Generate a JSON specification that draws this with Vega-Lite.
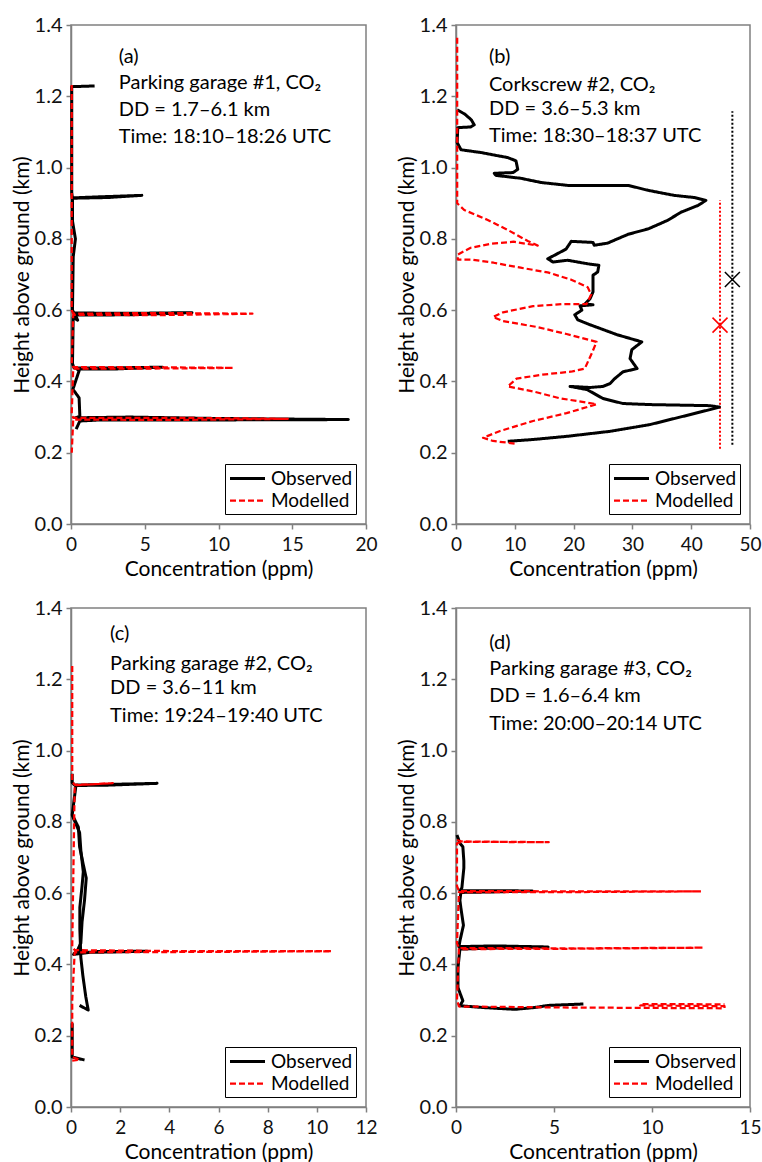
{
  "$schema": "https://vega.github.io/schema/vega-lite/v6.json",
  "padding": {"left": 10, "top": 14, "right": 0, "bottom": 0},
  "background": "white",
  "columns": 2,
  "spacing": {"column": 17, "row": 16},
  "datasets": {
    "a": [
      {"s":"Observed","g":1,"i":1,"x":1.6,"y":1.229},{"s":"Observed","g":1,"i":2,"x":0.05,"y":1.227},{"s":"Observed","g":1,"i":3,"x":0.05,"y":0.93},{"s":"Observed","g":1,"i":4,"x":0.1,"y":0.914},{"s":"Observed","g":1,"i":5,"x":2.5,"y":0.916},{"s":"Observed","g":1,"i":6,"x":4.8,"y":0.922},{"s":"Observed","g":1,"i":7,"x":2.0,"y":0.918},{"s":"Observed","g":1,"i":8,"x":0.1,"y":0.915},{"s":"Observed","g":1,"i":9,"x":0.1,"y":0.85},{"s":"Observed","g":1,"i":10,"x":0.3,"y":0.8},{"s":"Observed","g":1,"i":11,"x":0.15,"y":0.75},{"s":"Observed","g":1,"i":12,"x":0.1,"y":0.6},{"s":"Observed","g":1,"i":13,"x":0.2,"y":0.592},{"s":"Observed","g":1,"i":14,"x":4,"y":0.591},{"s":"Observed","g":1,"i":15,"x":8.2,"y":0.593},{"s":"Observed","g":1,"i":16,"x":4,"y":0.587},{"s":"Observed","g":1,"i":17,"x":0.3,"y":0.586},{"s":"Observed","g":1,"i":18,"x":0.45,"y":0.572},{"s":"Observed","g":1,"i":19,"x":0.15,"y":0.58},{"s":"Observed","g":1,"i":20,"x":0.1,"y":0.45},{"s":"Observed","g":1,"i":21,"x":0.2,"y":0.438},{"s":"Observed","g":1,"i":22,"x":3,"y":0.438},{"s":"Observed","g":1,"i":23,"x":6.2,"y":0.44},{"s":"Observed","g":1,"i":24,"x":3,"y":0.435},{"s":"Observed","g":1,"i":25,"x":0.4,"y":0.435},{"s":"Observed","g":1,"i":26,"x":0.55,"y":0.43},{"s":"Observed","g":1,"i":27,"x":0.13,"y":0.378},{"s":"Observed","g":1,"i":28,"x":0.55,"y":0.354},{"s":"Observed","g":1,"i":29,"x":0.6,"y":0.302},{"s":"Observed","g":1,"i":30,"x":0.3,"y":0.298},{"s":"Observed","g":1,"i":31,"x":4,"y":0.3},{"s":"Observed","g":1,"i":32,"x":10,"y":0.296},{"s":"Observed","g":1,"i":33,"x":18.8,"y":0.293},{"s":"Observed","g":1,"i":34,"x":10,"y":0.292},{"s":"Observed","g":1,"i":35,"x":2,"y":0.292},{"s":"Observed","g":1,"i":36,"x":0.6,"y":0.289},{"s":"Observed","g":1,"i":37,"x":0.35,"y":0.266},
      {"s":"Modelled","g":2,"i":1,"x":0.05,"y":1.232},{"s":"Modelled","g":2,"i":2,"x":0.05,"y":0.6},{"s":"Modelled","g":2,"i":3,"x":0.15,"y":0.59},{"s":"Modelled","g":2,"i":4,"x":6,"y":0.592},{"s":"Modelled","g":2,"i":5,"x":12.3,"y":0.59},{"s":"Modelled","g":2,"i":6,"x":6,"y":0.586},{"s":"Modelled","g":2,"i":7,"x":0.15,"y":0.587},{"s":"Modelled","g":2,"i":8,"x":0.05,"y":0.45},{"s":"Modelled","g":2,"i":9,"x":0.15,"y":0.44},{"s":"Modelled","g":2,"i":10,"x":5,"y":0.44},{"s":"Modelled","g":2,"i":11,"x":11.0,"y":0.438},{"s":"Modelled","g":2,"i":12,"x":5,"y":0.436},{"s":"Modelled","g":2,"i":13,"x":0.15,"y":0.436},{"s":"Modelled","g":2,"i":14,"x":0.05,"y":0.31},{"s":"Modelled","g":2,"i":15,"x":0.15,"y":0.298},{"s":"Modelled","g":2,"i":16,"x":7,"y":0.298},{"s":"Modelled","g":2,"i":17,"x":14.7,"y":0.295},{"s":"Modelled","g":2,"i":18,"x":7,"y":0.292},{"s":"Modelled","g":2,"i":19,"x":0.15,"y":0.293},{"s":"Modelled","g":2,"i":20,"x":0.05,"y":0.2}
    ],
    "b": [
      {"s":"Observed","g":1,"i":1,"x":0.2,"y":1.162},{"s":"Observed","g":1,"i":2,"x":1.5,"y":1.15},{"s":"Observed","g":1,"i":3,"x":2.6,"y":1.134},{"s":"Observed","g":1,"i":4,"x":3.1,"y":1.12},{"s":"Observed","g":1,"i":5,"x":2.5,"y":1.114},{"s":"Observed","g":1,"i":6,"x":0.3,"y":1.112},{"s":"Observed","g":1,"i":7,"x":0.2,"y":1.07},{"s":"Observed","g":1,"i":8,"x":0.85,"y":1.05},{"s":"Observed","g":1,"i":9,"x":4.3,"y":1.042},{"s":"Observed","g":1,"i":10,"x":8.8,"y":1.028},{"s":"Observed","g":1,"i":11,"x":10.2,"y":1.019},{"s":"Observed","g":1,"i":12,"x":10.5,"y":0.995},{"s":"Observed","g":1,"i":13,"x":9.7,"y":0.986},{"s":"Observed","g":1,"i":14,"x":6.5,"y":0.984},{"s":"Observed","g":1,"i":15,"x":6.8,"y":0.978},{"s":"Observed","g":1,"i":16,"x":11,"y":0.97},{"s":"Observed","g":1,"i":17,"x":14.5,"y":0.958},{"s":"Observed","g":1,"i":18,"x":19,"y":0.95},{"s":"Observed","g":1,"i":19,"x":29.3,"y":0.95},{"s":"Observed","g":1,"i":20,"x":32.7,"y":0.936},{"s":"Observed","g":1,"i":21,"x":37.1,"y":0.922},{"s":"Observed","g":1,"i":22,"x":40.5,"y":0.916},{"s":"Observed","g":1,"i":23,"x":42.5,"y":0.908},{"s":"Observed","g":1,"i":24,"x":41.2,"y":0.894},{"s":"Observed","g":1,"i":25,"x":38.3,"y":0.875},{"s":"Observed","g":1,"i":26,"x":36,"y":0.852},{"s":"Observed","g":1,"i":27,"x":32.7,"y":0.828},{"s":"Observed","g":1,"i":28,"x":29.3,"y":0.813},{"s":"Observed","g":1,"i":29,"x":26.9,"y":0.796},{"s":"Observed","g":1,"i":30,"x":25.8,"y":0.788},{"s":"Observed","g":1,"i":31,"x":23.5,"y":0.782},{"s":"Observed","g":1,"i":32,"x":23.3,"y":0.79},{"s":"Observed","g":1,"i":33,"x":19.6,"y":0.793},{"s":"Observed","g":1,"i":34,"x":18.7,"y":0.771},{"s":"Observed","g":1,"i":35,"x":15.6,"y":0.744},{"s":"Observed","g":1,"i":36,"x":16.5,"y":0.735},{"s":"Observed","g":1,"i":37,"x":19,"y":0.74},{"s":"Observed","g":1,"i":38,"x":22.4,"y":0.73},{"s":"Observed","g":1,"i":39,"x":24.3,"y":0.726},{"s":"Observed","g":1,"i":40,"x":24.1,"y":0.707},{"s":"Observed","g":1,"i":41,"x":23.3,"y":0.698},{"s":"Observed","g":1,"i":42,"x":23.3,"y":0.651},{"s":"Observed","g":1,"i":43,"x":22.8,"y":0.632},{"s":"Observed","g":1,"i":44,"x":21.9,"y":0.617},{"s":"Observed","g":1,"i":45,"x":23.3,"y":0.615},{"s":"Observed","g":1,"i":46,"x":21.1,"y":0.612},{"s":"Observed","g":1,"i":47,"x":21.4,"y":0.6},{"s":"Observed","g":1,"i":48,"x":20.2,"y":0.587},{"s":"Observed","g":1,"i":49,"x":20.7,"y":0.573},{"s":"Observed","g":1,"i":50,"x":22.8,"y":0.559},{"s":"Observed","g":1,"i":51,"x":27.4,"y":0.531},{"s":"Observed","g":1,"i":52,"x":31.6,"y":0.511},{"s":"Observed","g":1,"i":53,"x":29.9,"y":0.489},{"s":"Observed","g":1,"i":54,"x":29.6,"y":0.464},{"s":"Observed","g":1,"i":55,"x":30.8,"y":0.436},{"s":"Observed","g":1,"i":56,"x":28.4,"y":0.427},{"s":"Observed","g":1,"i":57,"x":27,"y":0.408},{"s":"Observed","g":1,"i":58,"x":26.2,"y":0.394},{"s":"Observed","g":1,"i":59,"x":25,"y":0.386},{"s":"Observed","g":1,"i":60,"x":22.8,"y":0.383},{"s":"Observed","g":1,"i":61,"x":19.4,"y":0.386},{"s":"Observed","g":1,"i":62,"x":22.3,"y":0.377},{"s":"Observed","g":1,"i":63,"x":25,"y":0.352},{"s":"Observed","g":1,"i":64,"x":28.4,"y":0.338},{"s":"Observed","g":1,"i":65,"x":33,"y":0.335},{"s":"Observed","g":1,"i":66,"x":43.2,"y":0.332},{"s":"Observed","g":1,"i":67,"x":44.8,"y":0.328},{"s":"Observed","g":1,"i":68,"x":43.2,"y":0.321},{"s":"Observed","g":1,"i":69,"x":38.6,"y":0.302},{"s":"Observed","g":1,"i":70,"x":33,"y":0.279},{"s":"Observed","g":1,"i":71,"x":26.2,"y":0.26},{"s":"Observed","g":1,"i":72,"x":18.9,"y":0.246},{"s":"Observed","g":1,"i":73,"x":13.1,"y":0.237},{"s":"Observed","g":1,"i":74,"x":8.8,"y":0.232},
      {"s":"Modelled","g":2,"i":1,"x":0.2,"y":1.364},{"s":"Modelled","g":2,"i":2,"x":0.2,"y":0.9},{"s":"Modelled","g":2,"i":3,"x":1.4,"y":0.881},{"s":"Modelled","g":2,"i":4,"x":5.4,"y":0.853},{"s":"Modelled","g":2,"i":5,"x":8.8,"y":0.825},{"s":"Modelled","g":2,"i":6,"x":12.2,"y":0.794},{"s":"Modelled","g":2,"i":7,"x":13.9,"y":0.781},{"s":"Modelled","g":2,"i":8,"x":9.8,"y":0.792},{"s":"Modelled","g":2,"i":9,"x":5.9,"y":0.786},{"s":"Modelled","g":2,"i":10,"x":2.5,"y":0.775},{"s":"Modelled","g":2,"i":11,"x":0.3,"y":0.756},{"s":"Modelled","g":2,"i":12,"x":0.3,"y":0.742},{"s":"Modelled","g":2,"i":13,"x":2.5,"y":0.742},{"s":"Modelled","g":2,"i":14,"x":6.4,"y":0.733},{"s":"Modelled","g":2,"i":15,"x":11,"y":0.719},{"s":"Modelled","g":2,"i":16,"x":15.6,"y":0.706},{"s":"Modelled","g":2,"i":17,"x":19.5,"y":0.686},{"s":"Modelled","g":2,"i":18,"x":22.4,"y":0.664},{"s":"Modelled","g":2,"i":19,"x":23,"y":0.644},{"s":"Modelled","g":2,"i":20,"x":22.2,"y":0.617},{"s":"Modelled","g":2,"i":21,"x":18.1,"y":0.617},{"s":"Modelled","g":2,"i":22,"x":13.1,"y":0.611},{"s":"Modelled","g":2,"i":23,"x":8,"y":0.594},{"s":"Modelled","g":2,"i":24,"x":6.3,"y":0.581},{"s":"Modelled","g":2,"i":25,"x":8,"y":0.569},{"s":"Modelled","g":2,"i":26,"x":13.7,"y":0.553},{"s":"Modelled","g":2,"i":27,"x":18.8,"y":0.533},{"s":"Modelled","g":2,"i":28,"x":23.9,"y":0.511},{"s":"Modelled","g":2,"i":29,"x":23.2,"y":0.483},{"s":"Modelled","g":2,"i":30,"x":21.9,"y":0.436},{"s":"Modelled","g":2,"i":31,"x":19.8,"y":0.428},{"s":"Modelled","g":2,"i":32,"x":14.7,"y":0.419},{"s":"Modelled","g":2,"i":33,"x":10.3,"y":0.408},{"s":"Modelled","g":2,"i":34,"x":8.8,"y":0.386},{"s":"Modelled","g":2,"i":35,"x":13.1,"y":0.372},{"s":"Modelled","g":2,"i":36,"x":17.6,"y":0.353},{"s":"Modelled","g":2,"i":37,"x":23.9,"y":0.336},{"s":"Modelled","g":2,"i":38,"x":18.8,"y":0.311},{"s":"Modelled","g":2,"i":39,"x":13.1,"y":0.289},{"s":"Modelled","g":2,"i":40,"x":7.5,"y":0.261},{"s":"Modelled","g":2,"i":41,"x":4.6,"y":0.242},{"s":"Modelled","g":2,"i":42,"x":6.3,"y":0.233},{"s":"Modelled","g":2,"i":43,"x":10.3,"y":0.225}
    ],
    "c": [
      {"s":"Observed","g":1,"i":1,"x":0.35,"y":0.285},{"s":"Observed","g":1,"i":2,"x":0.7,"y":0.272},{"s":"Observed","g":1,"i":3,"x":0.6,"y":0.31},{"s":"Observed","g":1,"i":4,"x":0.48,"y":0.37},{"s":"Observed","g":1,"i":5,"x":0.4,"y":0.42},{"s":"Observed","g":1,"i":6,"x":0.36,"y":0.5},{"s":"Observed","g":1,"i":7,"x":0.36,"y":0.56},{"s":"Observed","g":1,"i":8,"x":0.45,"y":0.62},{"s":"Observed","g":1,"i":9,"x":0.5,"y":0.66},{"s":"Observed","g":1,"i":10,"x":0.4,"y":0.72},{"s":"Observed","g":1,"i":11,"x":0.35,"y":0.77},{"s":"Observed","g":1,"i":12,"x":0.1,"y":0.81},{"s":"Observed","g":1,"i":13,"x":0.05,"y":0.82},
      {"s":"Observed","g":2,"i":1,"x":0.05,"y":0.935},{"s":"Observed","g":2,"i":2,"x":0.05,"y":0.91},{"s":"Observed","g":2,"i":3,"x":0.15,"y":0.903},{"s":"Observed","g":2,"i":4,"x":1.5,"y":0.905},{"s":"Observed","g":2,"i":5,"x":3.5,"y":0.908},{"s":"Observed","g":2,"i":6,"x":1.5,"y":0.903},{"s":"Observed","g":2,"i":7,"x":0.2,"y":0.902},{"s":"Observed","g":2,"i":8,"x":0.05,"y":0.82},{"s":"Observed","g":2,"i":9,"x":0.3,"y":0.785},{"s":"Observed","g":2,"i":10,"x":0.35,"y":0.73},{"s":"Observed","g":2,"i":11,"x":0.5,"y":0.68},{"s":"Observed","g":2,"i":12,"x":0.62,"y":0.642},{"s":"Observed","g":2,"i":13,"x":0.55,"y":0.58},{"s":"Observed","g":2,"i":14,"x":0.45,"y":0.52},{"s":"Observed","g":2,"i":15,"x":0.4,"y":0.46},{"s":"Observed","g":2,"i":16,"x":0.2,"y":0.43},{"s":"Observed","g":2,"i":17,"x":0.1,"y":0.428},{"s":"Observed","g":2,"i":18,"x":1,"y":0.436},{"s":"Observed","g":2,"i":19,"x":3.1,"y":0.437},{"s":"Observed","g":2,"i":20,"x":1,"y":0.434},{"s":"Observed","g":2,"i":21,"x":0.2,"y":0.434},{"s":"Observed","g":2,"i":22,"x":0.1,"y":0.43},
      {"s":"Observed","g":3,"i":1,"x":0.05,"y":0.235},{"s":"Observed","g":3,"i":2,"x":0.05,"y":0.14},{"s":"Observed","g":3,"i":3,"x":0.55,"y":0.132},
      {"s":"Modelled","g":4,"i":1,"x":0.05,"y":1.237},{"s":"Modelled","g":4,"i":2,"x":0.05,"y":0.912},{"s":"Modelled","g":4,"i":3,"x":0.15,"y":0.904},{"s":"Modelled","g":4,"i":4,"x":1.0,"y":0.906},{"s":"Modelled","g":4,"i":5,"x":1.7,"y":0.909},{"s":"Modelled","g":4,"i":6,"x":0.8,"y":0.905},{"s":"Modelled","g":4,"i":7,"x":0.15,"y":0.903},{"s":"Modelled","g":4,"i":8,"x":0.05,"y":0.45},{"s":"Modelled","g":4,"i":9,"x":0.15,"y":0.44},{"s":"Modelled","g":4,"i":10,"x":5,"y":0.437},{"s":"Modelled","g":4,"i":11,"x":10.6,"y":0.437},{"s":"Modelled","g":4,"i":12,"x":5,"y":0.435},{"s":"Modelled","g":4,"i":13,"x":0.15,"y":0.434},{"s":"Modelled","g":4,"i":14,"x":0.05,"y":0.3},{"s":"Modelled","g":4,"i":15,"x":0.05,"y":0.14},{"s":"Modelled","g":4,"i":16,"x":0.35,"y":0.133},{"s":"Modelled","g":4,"i":17,"x":0.05,"y":0.13}
    ],
    "d": [
      {"s":"Observed","g":1,"i":1,"x":0.05,"y":0.763},{"s":"Observed","g":1,"i":2,"x":0.2,"y":0.74},{"s":"Observed","g":1,"i":3,"x":0.35,"y":0.73},{"s":"Observed","g":1,"i":4,"x":0.4,"y":0.69},{"s":"Observed","g":1,"i":5,"x":0.4,"y":0.67},{"s":"Observed","g":1,"i":6,"x":0.3,"y":0.615},{"s":"Observed","g":1,"i":7,"x":0.2,"y":0.607},{"s":"Observed","g":1,"i":8,"x":2,"y":0.607},{"s":"Observed","g":1,"i":9,"x":3.9,"y":0.606},{"s":"Observed","g":1,"i":10,"x":1.5,"y":0.603},{"s":"Observed","g":1,"i":11,"x":0.25,"y":0.602},{"s":"Observed","g":1,"i":12,"x":0.2,"y":0.58},{"s":"Observed","g":1,"i":13,"x":0.25,"y":0.558},{"s":"Observed","g":1,"i":14,"x":0.38,"y":0.51},{"s":"Observed","g":1,"i":15,"x":0.2,"y":0.466},{"s":"Observed","g":1,"i":16,"x":0.15,"y":0.45},{"s":"Observed","g":1,"i":17,"x":2,"y":0.452},{"s":"Observed","g":1,"i":18,"x":4.7,"y":0.449},{"s":"Observed","g":1,"i":19,"x":2,"y":0.446},{"s":"Observed","g":1,"i":20,"x":0.2,"y":0.443},{"s":"Observed","g":1,"i":21,"x":0.1,"y":0.39},{"s":"Observed","g":1,"i":22,"x":0.1,"y":0.335},{"s":"Observed","g":1,"i":23,"x":0.35,"y":0.298},{"s":"Observed","g":1,"i":24,"x":0.2,"y":0.284},{"s":"Observed","g":1,"i":25,"x":1.4,"y":0.279},{"s":"Observed","g":1,"i":26,"x":3.0,"y":0.274},{"s":"Observed","g":1,"i":27,"x":4.0,"y":0.279},{"s":"Observed","g":1,"i":28,"x":4.7,"y":0.285},{"s":"Observed","g":1,"i":29,"x":6.5,"y":0.289},
      {"s":"Modelled","g":2,"i":1,"x":0.05,"y":0.749},{"s":"Modelled","g":2,"i":2,"x":0.3,"y":0.745},{"s":"Modelled","g":2,"i":3,"x":4.73,"y":0.743},{"s":"Modelled","g":2,"i":4,"x":0.3,"y":0.744},{"s":"Modelled","g":2,"i":5,"x":0.05,"y":0.74},{"s":"Modelled","g":2,"i":6,"x":0.05,"y":0.62},{"s":"Modelled","g":2,"i":7,"x":0.15,"y":0.606},{"s":"Modelled","g":2,"i":8,"x":6,"y":0.605},{"s":"Modelled","g":2,"i":9,"x":12.5,"y":0.605},{"s":"Modelled","g":2,"i":10,"x":6,"y":0.603},{"s":"Modelled","g":2,"i":11,"x":0.15,"y":0.603},{"s":"Modelled","g":2,"i":12,"x":0.05,"y":0.46},{"s":"Modelled","g":2,"i":13,"x":0.15,"y":0.446},{"s":"Modelled","g":2,"i":14,"x":6,"y":0.445},{"s":"Modelled","g":2,"i":15,"x":12.6,"y":0.447},{"s":"Modelled","g":2,"i":16,"x":6,"y":0.444},{"s":"Modelled","g":2,"i":17,"x":0.15,"y":0.443},{"s":"Modelled","g":2,"i":18,"x":0.05,"y":0.3},{"s":"Modelled","g":2,"i":19,"x":0.15,"y":0.282},{"s":"Modelled","g":2,"i":20,"x":6,"y":0.279},{"s":"Modelled","g":2,"i":21,"x":13.7,"y":0.277},{"s":"Modelled","g":2,"i":22,"x":13.7,"y":0.283},{"s":"Modelled","g":2,"i":23,"x":9.4,"y":0.285},{"s":"Modelled","g":2,"i":24,"x":9.4,"y":0.289},{"s":"Modelled","g":2,"i":25,"x":13.7,"y":0.288}
    ],
    "ta": [{"x":3.24,"y":1.311,"t":"(a)"},{"x":3.24,"y":1.236,"t":"Parking garage #1, CO₂"},{"x":3.24,"y":1.161,"t":"DD = 1.7–6.1 km"},{"x":3.24,"y":1.085,"t":"Time: 18:10–18:26 UTC"}],
    "tb": [{"x":5.6,"y":1.311,"t":"(b)"},{"x":5.6,"y":1.233,"t":"Corkscrew #2, CO₂"},{"x":5.6,"y":1.164,"t":"DD = 3.6–5.3 km"},{"x":5.6,"y":1.089,"t":"Time: 18:30–18:37 UTC"}],
    "tc": [{"x":1.59,"y":1.326,"t":"(c)"},{"x":1.59,"y":1.242,"t":"Parking garage #2, CO₂"},{"x":1.59,"y":1.175,"t":"DD = 3.6–11 km"},{"x":1.59,"y":1.097,"t":"Time: 19:24–19:40 UTC"}],
    "td": [{"x":1.7,"y":1.303,"t":"(d)"},{"x":1.7,"y":1.228,"t":"Parking garage #3, CO₂"},{"x":1.7,"y":1.153,"t":"DD = 1.6–6.4 km"},{"x":1.7,"y":1.074,"t":"Time: 20:00–20:14 UTC"}],
    "eo": [{"x":47,"y":0.222,"y2":1.158,"m":0.686}],
    "em": [{"x":44.9,"y":0.211,"y2":0.908,"m":0.558}]
  },
  "resolve": {
    "scale": {"color": "independent", "strokeDash": "independent", "strokeWidth": "independent"},
    "legend": {"color": "independent", "strokeDash": "independent", "strokeWidth": "independent"}
  },
  "concat": [
    {
      "width": 295, "height": 499,
      "encoding": {
        "x": {"field": "x", "type": "quantitative", "scale": {"domain": [0, 20], "nice": false, "zero": false}, "axis": {"values": [0, 5, 10, 15, 20]}, "title": "Concentration (ppm)"},
        "y": {"field": "y", "type": "quantitative", "scale": {"domain": [0, 1.4], "nice": false}, "axis": {"values": [0, 0.2, 0.4, 0.6, 0.8, 1.0, 1.2, 1.4], "format": ".1f"}, "title": "Height above ground (km)"}
      },
      "layer": [
        {"data": {"name": "a"}, "mark": {"type": "line", "strokeJoin": "round", "strokeCap": "butt"},
         "encoding": {
           "color": {"field": "s", "type": "nominal", "scale": {"domain": ["Observed", "Modelled"], "range": ["black", "#ff0000"]}, "title": null},
           "strokeDash": {"field": "s", "type": "nominal", "scale": {"domain": ["Observed", "Modelled"], "range": [[1, 0], [6, 3]]}, "title": null},
           "strokeWidth": {"field": "s", "type": "nominal", "scale": {"domain": ["Observed", "Modelled"], "range": [3, 2.25]}, "title": null},
           "detail": {"field": "g"},
           "order": {"field": "i", "type": "quantitative"}
         }},
        {"data": {"name": "ta"}, "mark": {"type": "text", "align": "left", "baseline": "middle", "fontSize": 20, "font": "Lato", "color": "black"},
         "encoding": {"text": {"field": "t"}}}
      ]
    },
    {
      "width": 294, "height": 499,
      "encoding": {
        "x": {"field": "x", "type": "quantitative", "scale": {"domain": [0, 50], "nice": false, "zero": false}, "axis": {"values": [0, 10, 20, 30, 40, 50]}, "title": "Concentration (ppm)"},
        "y": {"field": "y", "type": "quantitative", "scale": {"domain": [0, 1.4], "nice": false}, "axis": {"values": [0, 0.2, 0.4, 0.6, 0.8, 1.0, 1.2, 1.4], "format": ".1f"}, "title": "Height above ground (km)"}
      },
      "layer": [
        {"data": {"name": "em"}, "mark": {"type": "rule", "color": "#ff0000", "strokeWidth": 2, "strokeDash": [2, 2]}, "encoding": {"y2": {"field": "y2"}}},
        {"data": {"name": "eo"}, "mark": {"type": "rule", "color": "black", "strokeWidth": 2, "strokeDash": [2, 2]}, "encoding": {"y2": {"field": "y2"}}},
        {"data": {"name": "em"}, "mark": {"type": "point", "shape": "M-1,-1L1,1M-1,1L1,-1", "size": 225, "filled": false, "color": "#ff0000", "strokeWidth": 1.5, "opacity": 1}, "encoding": {"y": {"field": "m", "type": "quantitative"}}},
        {"data": {"name": "eo"}, "mark": {"type": "point", "shape": "M-1,-1L1,1M-1,1L1,-1", "size": 225, "filled": false, "color": "black", "strokeWidth": 1.5, "opacity": 1}, "encoding": {"y": {"field": "m", "type": "quantitative"}}},
        {"data": {"name": "b"}, "mark": {"type": "line", "strokeJoin": "round", "strokeCap": "butt"},
         "encoding": {
           "color": {"field": "s", "type": "nominal", "scale": {"domain": ["Observed", "Modelled"], "range": ["black", "#ff0000"]}, "title": null},
           "strokeDash": {"field": "s", "type": "nominal", "scale": {"domain": ["Observed", "Modelled"], "range": [[1, 0], [6, 3]]}, "title": null},
           "strokeWidth": {"field": "s", "type": "nominal", "scale": {"domain": ["Observed", "Modelled"], "range": [3, 2.25]}, "title": null},
           "detail": {"field": "g"},
           "order": {"field": "i", "type": "quantitative"}
         }},
        {"data": {"name": "tb"}, "mark": {"type": "text", "align": "left", "baseline": "middle", "fontSize": 20, "font": "Lato", "color": "black"},
         "encoding": {"text": {"field": "t"}}}
      ]
    },
    {
      "width": 295, "height": 499,
      "encoding": {
        "x": {"field": "x", "type": "quantitative", "scale": {"domain": [0, 12], "nice": false, "zero": false}, "axis": {"values": [0, 2, 4, 6, 8, 10, 12]}, "title": "Concentration (ppm)"},
        "y": {"field": "y", "type": "quantitative", "scale": {"domain": [0, 1.4], "nice": false}, "axis": {"values": [0, 0.2, 0.4, 0.6, 0.8, 1.0, 1.2, 1.4], "format": ".1f"}, "title": "Height above ground (km)"}
      },
      "layer": [
        {"data": {"name": "c"}, "mark": {"type": "line", "strokeJoin": "round", "strokeCap": "butt"},
         "encoding": {
           "color": {"field": "s", "type": "nominal", "scale": {"domain": ["Observed", "Modelled"], "range": ["black", "#ff0000"]}, "title": null},
           "strokeDash": {"field": "s", "type": "nominal", "scale": {"domain": ["Observed", "Modelled"], "range": [[1, 0], [6, 3]]}, "title": null},
           "strokeWidth": {"field": "s", "type": "nominal", "scale": {"domain": ["Observed", "Modelled"], "range": [3, 2.25]}, "title": null},
           "detail": {"field": "g"},
           "order": {"field": "i", "type": "quantitative"}
         }},
        {"data": {"name": "tc"}, "mark": {"type": "text", "align": "left", "baseline": "middle", "fontSize": 20, "font": "Lato", "color": "black"},
         "encoding": {"text": {"field": "t"}}}
      ]
    },
    {
      "width": 294, "height": 499,
      "encoding": {
        "x": {"field": "x", "type": "quantitative", "scale": {"domain": [0, 15], "nice": false, "zero": false}, "axis": {"values": [0, 5, 10, 15]}, "title": "Concentration (ppm)"},
        "y": {"field": "y", "type": "quantitative", "scale": {"domain": [0, 1.4], "nice": false}, "axis": {"values": [0, 0.2, 0.4, 0.6, 0.8, 1.0, 1.2, 1.4], "format": ".1f"}, "title": "Height above ground (km)"}
      },
      "layer": [
        {"data": {"name": "d"}, "mark": {"type": "line", "strokeJoin": "round", "strokeCap": "butt"},
         "encoding": {
           "color": {"field": "s", "type": "nominal", "scale": {"domain": ["Observed", "Modelled"], "range": ["black", "#ff0000"]}, "title": null},
           "strokeDash": {"field": "s", "type": "nominal", "scale": {"domain": ["Observed", "Modelled"], "range": [[1, 0], [6, 3]]}, "title": null},
           "strokeWidth": {"field": "s", "type": "nominal", "scale": {"domain": ["Observed", "Modelled"], "range": [3, 2.25]}, "title": null},
           "detail": {"field": "g"},
           "order": {"field": "i", "type": "quantitative"}
         }},
        {"data": {"name": "td"}, "mark": {"type": "text", "align": "left", "baseline": "middle", "fontSize": 20, "font": "Lato", "color": "black"},
         "encoding": {"text": {"field": "t"}}}
      ]
    }
  ],
  "config": {
    "font": "Lato",
    "view": {"stroke": "#808080", "strokeWidth": 1.5},
    "axis": {
      "grid": false,
      "domainColor": "#808080", "domainWidth": 1.5,
      "tickColor": "#808080", "tickWidth": 1.5, "tickSize": 5,
      "labelFont": "Lato", "labelFontSize": 20, "labelColor": "#111",
      "titleFont": "Lato", "titleFontSize": 21, "titleFontWeight": "normal", "titleColor": "black"
    },
    "axisX": {"labelPadding": 6, "titlePadding": 4.5, "labelFontSize": 19, "labelFlush": false},
    "axisY": {"labelPadding": 4, "titlePadding": 2, "labelFlush": false},
    "legend": {
      "orient": "bottom-right", "offset": 10,
      "strokeColor": "black", "fillColor": "white", "padding": 3,
      "labelFont": "Lato", "labelFontSize": 19, "labelColor": "black", "labelOffset": 12,
      "rowPadding": 0, "symbolType": "M-1.75,0L1.75,0", "symbolSize": 400, "symbolOffset": 8
    }
  }
}
